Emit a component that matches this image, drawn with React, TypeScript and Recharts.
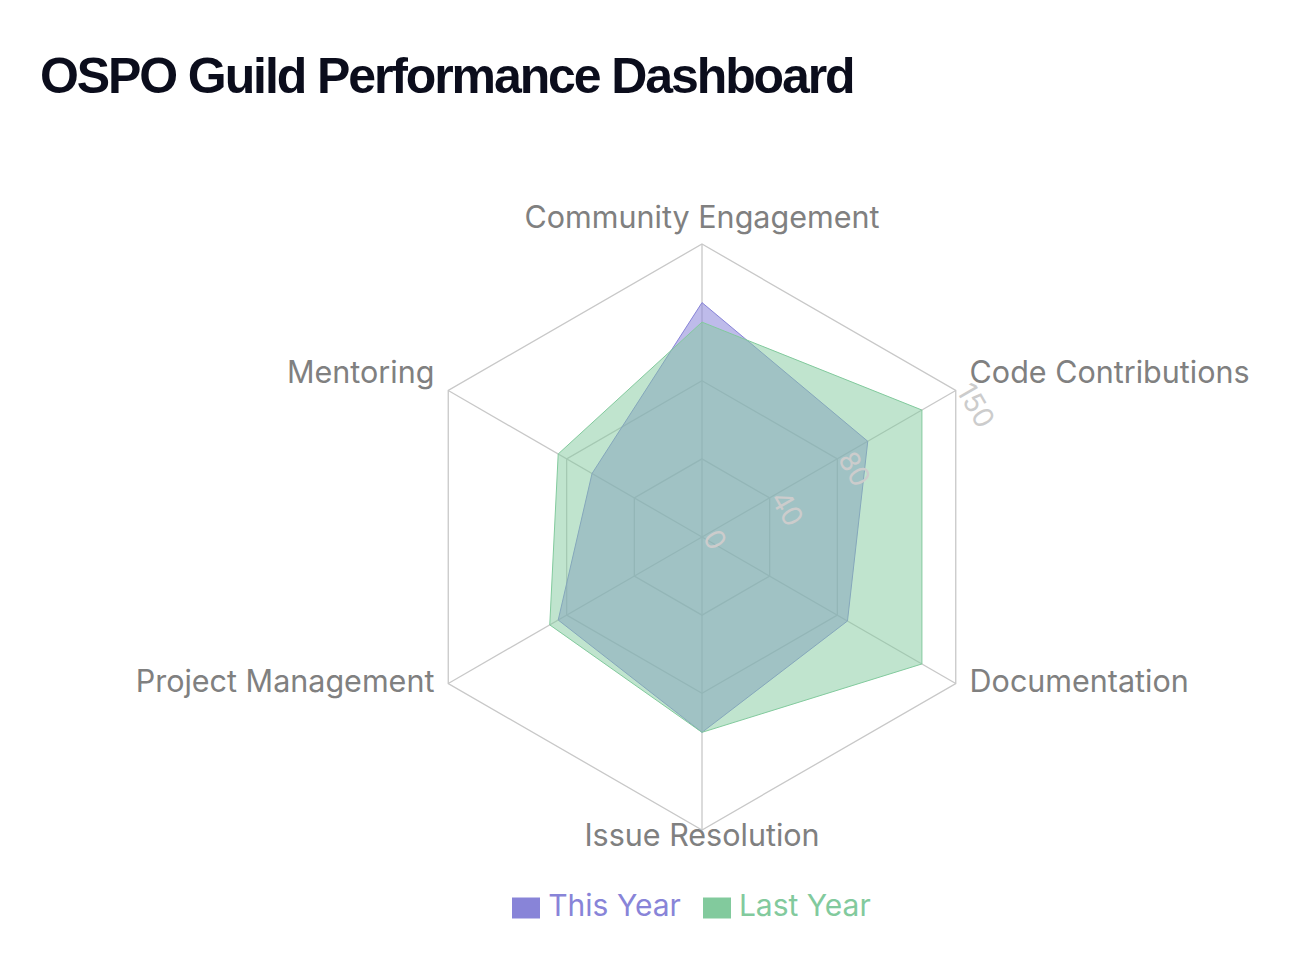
import { RadarChart, Radar, PolarGrid, PolarAngleAxis, PolarRadiusAxis, Legend } from 'recharts';

const categories = [
  'Community Engagement',
  'Code Contributions',
  'Documentation',
  'Issue Resolution',
  'Project Management',
  'Mentoring',
];
const thisYear = [120, 98, 86, 100, 85, 65];
const lastYear = [110, 130, 130, 100, 90, 85];
const radiusTicks = [0, 40, 80, 150];
const seriesNames = ['This Year', 'Last Year'];

const data = categories.map((subject, i) => ({
  subject,
  thisYear: thisYear[i],
  lastYear: lastYear[i],
}));

const FONT = 'Inter, "Noto Sans", sans-serif';
const CX = 694;
const CY = 529;
const R = 293;

// labels sit 16px outside the grid, baseline on the anchor point
const AngleTick = (props: any) => {
  const { payload } = props;
  const angle = (payload.coordinate * Math.PI) / 180;
  const cos = Math.cos(angle);
  const x = CX + (R + 16) * cos;
  const y = CY - (R + 16) * Math.sin(angle);
  const anchor = cos > 0.01 ? 'start' : cos < -0.01 ? 'end' : 'middle';
  return (
    <text x={x} y={y} textAnchor={anchor} fill="#808080" fontSize={30.5} fontFamily={FONT}>
      {payload.value}
    </text>
  );
};

export default function App() {
  return (
    <div style={{ position: 'relative', width: 1284, height: 960, fontFamily: FONT }}>
      <style>{`
        .recharts-legend-item { margin-right: 22px !important; }
        .recharts-legend-item:last-child { margin-right: 0 !important; }
        .recharts-legend-item svg { margin-right: 8px !important; }
      `}</style>
      <h1
        style={{
          position: 'absolute',
          left: 32,
          top: 43,
          margin: 0,
          fontFamily: '"Liberation Sans", Arial, sans-serif',
          fontSize: 50,
          fontWeight: 700,
          letterSpacing: -2.1,
          color: '#0b0d1c',
          lineHeight: 1,
          whiteSpace: 'nowrap',
        }}
      >
        OSPO Guild Performance Dashboard
      </h1>
      <div style={{ position: 'absolute', left: 0, top: 0 }}>
        <RadarChart width={1284} height={960} data={data} cx={CX} cy={CY} outerRadius={R}>
          <PolarGrid stroke="#c8c8c8" strokeWidth={1.3} />
          <PolarAngleAxis dataKey="subject" tick={<AngleTick />} tickLine={false} />
          <PolarRadiusAxis
            angle={30}
            domain={[0, 150]}
            ticks={radiusTicks}
            tick={{ fill: '#cccccc', fontSize: 28, fontFamily: FONT }}
            axisLine={false}
          />
          <Radar
            name="This Year"
            dataKey="thisYear"
            stroke="#8884d8"
            fill="#8884d8"
            fillOpacity={0.55}
            isAnimationActive={false}
          />
          <Radar
            name="Last Year"
            dataKey="lastYear"
            stroke="#82ca9d"
            fill="#82ca9d"
            fillOpacity={0.5}
            isAnimationActive={false}
          />
          <Legend
            iconSize={28}
            itemSorter={(item: any) => seriesNames.indexOf(item.value)}
            wrapperStyle={{ top: 879, left: 0, width: 1367, fontSize: 30, fontFamily: FONT }}
          />
        </RadarChart>
      </div>
    </div>
  );
}
